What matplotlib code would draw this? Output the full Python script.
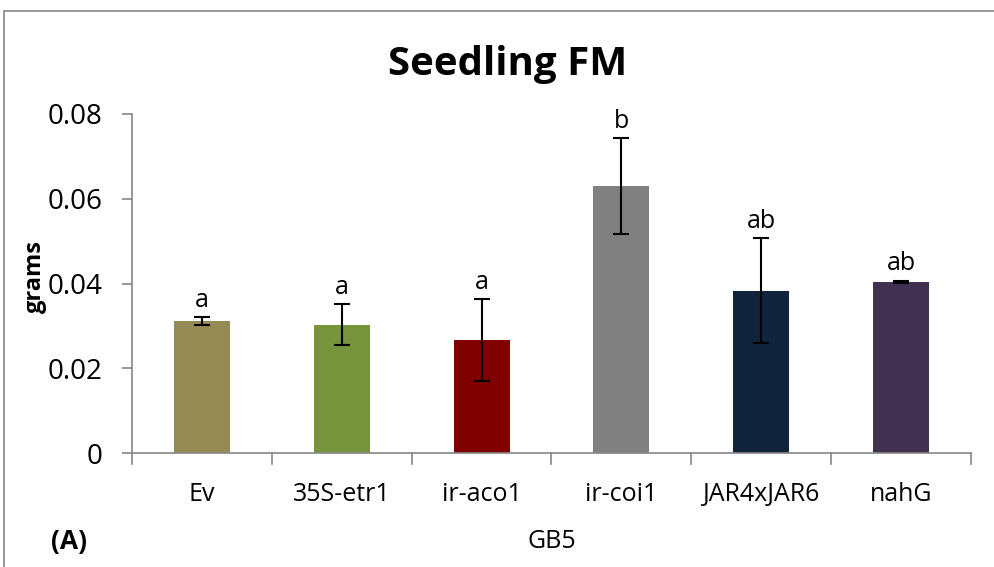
import matplotlib
matplotlib.use("Agg")
from matplotlib import pyplot as plt
from matplotlib.patches import Rectangle

plt.rcParams['font.family'] = ['Open Sans', 'DejaVu Sans']

# data
genotypes = ['Ev', '35S-etr1', 'ir-aco1', 'ir-coi1', 'JAR4xJAR6', 'nahG']
mean_fm = [0.0312, 0.0303, 0.0267, 0.0630, 0.0383, 0.0404]
err_fm = [0.0009, 0.0049, 0.0097, 0.0113, 0.0124, 0.0003]
letters = ['a', 'a', 'a', 'b', 'ab', 'ab']
bar_colors = ['#948A54', '#77933C', '#800000', '#808080', '#10243E', '#403151']
y_ticks = [0, 0.02, 0.04, 0.06, 0.08]
y_ticklabels = ['0', '0.02', '0.04', '0.06', '0.08']

grey = '#868686'

fig = plt.figure(figsize=(9.95, 5.67), dpi=100)

# chart area frame (cut off on the right and bottom)
fig.patches.append(Rectangle((4 / 995, -0.1), 1.2, (567 - 11) / 567 + 0.1,
                             transform=fig.transFigure, fill=False,
                             edgecolor=grey, linewidth=1.2))

ax = fig.add_axes([132 / 995, 1 - 453 / 567, (971 - 132) / 995, (453 - 114) / 567])
x = list(range(len(genotypes)))
ax.bar(x, mean_fm, width=0.4, color=bar_colors, zorder=2)
ax.errorbar(x, mean_fm, yerr=err_fm, fmt='none', ecolor='black',
            elinewidth=1.5, capsize=6, capthick=1.5, zorder=3)

for xi, m, e, lab in zip(x, mean_fm, err_fm, letters):
    ax.annotate(lab, (xi, m + e), xytext=(0, 3), textcoords='offset points',
                ha='center', va='bottom', fontsize=18)

ax.set_xlim(-0.5, len(genotypes) - 0.5)
ax.set_ylim(0, 0.08)
ax.set_yticks(y_ticks)
ax.set_yticklabels(y_ticklabels, fontsize=20)
ax.set_xticks(x)
ax.set_xticklabels(genotypes, fontsize=18)
ax.tick_params(axis='x', length=0, pad=21)
ax.tick_params(axis='y', length=7, width=1.2, color=grey, pad=14)

# category boundary ticks on x axis
for b in [i - 0.5 for i in range(len(genotypes) + 1)]:
    ax.plot([b, b], [0, -0.0025], color=grey, linewidth=1.2, clip_on=False)

for side in ['top', 'right']:
    ax.spines[side].set_visible(False)
for side in ['left', 'bottom']:
    ax.spines[side].set_color(grey)
    ax.spines[side].set_linewidth(1.2)

fig.text(508 / 995, 1 - 64 / 567, 'Seedling FM', ha='center', va='center',
         fontsize=29, fontweight='bold')
fig.text(35 / 995, 1 - 277 / 567, 'grams', ha='center', va='center',
         rotation=90, fontsize=17, fontweight='bold')
fig.text(69 / 995, 1 - 542 / 567, '(A)', ha='center', va='center',
         fontsize=19, fontweight='bold')
fig.text(552 / 995, 1 - 542 / 567, 'GB5', ha='center', va='center', fontsize=18)

fig.savefig('out.png', dpi=100)
